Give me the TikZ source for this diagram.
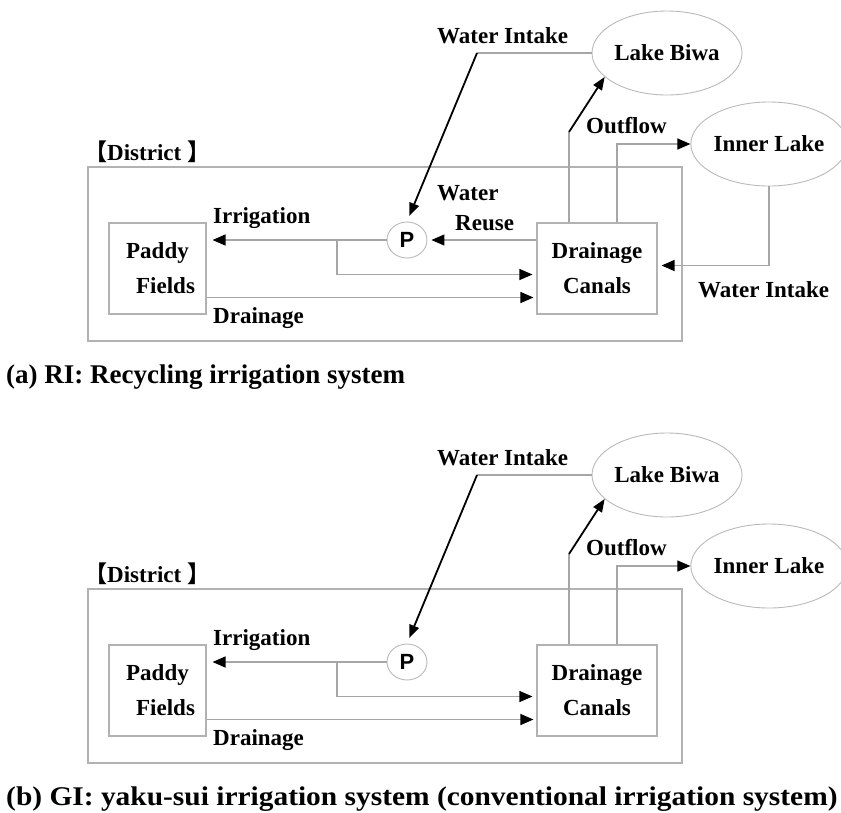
\documentclass[tikz,border=0pt]{standalone}
\usepackage{fontspec}
\setmainfont{Liberation Serif}
\newfontfamily\cjkfont{Noto Sans CJK SC}
\newfontfamily\pumpfont{Liberation Sans}
\newfontfamily\widecapfont[FakeStretch=1.09]{Liberation Serif}
\usetikzlibrary{arrows.meta,shapes.geometric,calc}

% One district panel: boxes, pump, lakes and the flows common to both systems
\newcommand\irrpanel[2]{%
\begin{scope}[shift={(0,#2)}]
  \node[rectangle, draw=gray!60, line width=1.1pt, minimum width=594pt, minimum height=174pt] (#1-district) at (385,254) {};
  \node[lbl] (#1-districtlbl) at (84,160) {{\cjkfont 【}District {\cjkfont 】}};
  \node[box, minimum width=97pt, minimum height=91pt] (#1-paddy) at (157.5,268.5) {Paddy\\\hspace*{0.7em}Fields};
  \node[box, minimum width=120pt, minimum height=91pt] (#1-canals) at (597,268.5) {Drainage\\Canals};
  \node[pump] (#1-pump) at (407,240) {P};
  \node[lake, minimum width=150pt, minimum height=84pt] (#1-biwa) at (667,53) {Lake Biwa};
  \node[lake, minimum width=144pt, minimum height=84pt] (#1-inner) at (769,144) {Inner Lake};
  \coordinate (#1-kink) at (477,53);
  \coordinate (#1-split) at (337,240);
  \coordinate (#1-rise) at (569,132);
  % labels
  \node[lbl] (#1-intakelbl) at (437,43) {Water Intake};
  \node[lbl] (#1-outflowlbl) at (586,133) {Outflow};
  \node[lbl] (#1-irrlbl) at (213,223) {Irrigation};
  \node[lbl] (#1-drainlbl) at (213,323) {Drainage};
\end{scope}
  % intake from Lake Biwa to the pump
  \draw[flowline] (#1-biwa.west) -- (#1-kink);
  \draw[darkarrow, shorten >=6pt] (#1-kink) -- (#1-pump.north);
  % outflow to Lake Biwa
  \draw[flowline] (#1-canals.north -| #1-rise) -- (#1-rise);
  \draw[darkarrow] (#1-rise) -- (#1-biwa.201);
  % outflow to the inner lake
  \draw[flowarrow] ($(#1-canals.north)+(20,0)$) |- (#1-inner.west);
  % irrigation and its surplus
  \draw[flowarrow, shorten >=6pt] (#1-pump.west) -- (#1-paddy.east |- #1-pump);
  \draw[flowarrow, shorten >=4pt] (#1-split) |- ($(#1-canals.west)+(0,6)$);
  % drainage from the fields
  \draw[flowarrow, shorten >=3pt] ($(#1-paddy.east)+(0,29)$) -- ($(#1-canals.west)+(0,29)$);
}

\begin{document}
\begin{tikzpicture}[x=1pt,y=-1pt,
  every node/.style={font=\fontsize{23}{35}\selectfont\bfseries, inner sep=0pt},
  lbl/.style={anchor=base west},
  flowline/.style={draw=gray!70, line width=1.2pt},
  flowarrow/.style={flowline, -{Triangle[length=13pt,width=11pt,color=black]}},
  darkarrow/.style={draw=black, line width=1.8pt, -{Triangle[length=13pt,width=10pt]}},
  box/.style={draw=gray!60, line width=1.1pt, align=center},
  lake/.style={ellipse, draw=gray!55, line width=0.9pt},
  pump/.style={ellipse, draw=gray!55, line width=0.9pt, minimum width=40pt, minimum height=36pt,
    font=\pumpfont\fontsize{22}{24}\selectfont\bfseries},
  caption/.style={anchor=base west, font=\fontsize{27}{30}\selectfont\bfseries}
]
\useasboundingbox (0,0) rectangle (841,812);

% (a) recycling irrigation
\irrpanel{a}{0}
\node[lbl] (a-waterlbl) at (437,200) {Water};
\node[lbl] (a-reuselbl) at (455,230) {Reuse};
\node[lbl] (a-intake2lbl) at (698,297) {Water Intake};
\draw[flowarrow, shorten >=4pt] (a-canals.west |- a-pump) -- (a-pump.east);
\draw[flowarrow, shorten >=4pt] (a-inner.south) |- ($(a-canals.east)+(0,-3)$);
\node[caption] (a-caption) at (6,383) {(a) RI: Recycling irrigation system};

% (b) conventional irrigation
\irrpanel{b}{422}
\node[caption] (b-caption) at (6,805) {\widecapfont\bfseries (b) GI: yaku-sui irrigation system (conventional irrigation system)};
\end{tikzpicture}
\end{document}
